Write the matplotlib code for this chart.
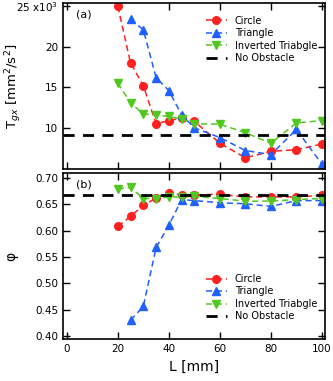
import numpy as np
import matplotlib
matplotlib.use("Agg")
import matplotlib.pyplot as plt
from matplotlib.ticker import FixedLocator, MultipleLocator

L = [20, 25, 30, 35, 40, 45, 50, 60, 70, 80, 90, 100]

# granular temperature (x1e3 mm^2/s^2)
tgx_circle = [25.0, 18.0, 15.2, 10.5, 10.9, 11.2, 10.8, 8.1, 6.3, 7.1, 7.3, 8.0]
tgx_triangle = [np.nan, 23.4, 22.1, 16.2, 14.6, 11.6, 10.0, 8.8, 7.2, 6.7, 9.8, 5.5]
tgx_inverted = [15.5, 13.1, 11.7, 11.6, 11.4, 11.1, 10.5, 10.45, 9.4, 8.1, 10.6, 10.9]
tgx_none = 9.13

# packing fraction
phi_circle = [0.608, 0.627, 0.648, 0.662, 0.671, 0.668, 0.668, 0.669, 0.664, 0.664, 0.664, 0.667]
phi_triangle = [np.nan, 0.430, 0.456, 0.568, 0.610, 0.659, 0.657, 0.653, 0.651, 0.646, 0.657, 0.657]
phi_inverted = [0.679, 0.682, 0.661, 0.661, 0.664, 0.664, 0.665, 0.661, 0.656, 0.656, 0.659, 0.661]
phi_none = 0.667

labels = ["Circle", "Triangle", "Inverted Triabgle", "No Obstacle"]

red = "#ff2020"
blue = "#2060ff"
green = "#50c820"

plt.rcParams['font.family'] = ['DejaVu Sans']
fig = plt.figure(figsize=(3.33, 3.81), dpi=100)
ax1 = fig.add_axes([0.189, 0.556, 0.787, 0.436])
ax2 = fig.add_axes([0.189, 0.110, 0.787, 0.436])

def style(ax):
    ax.tick_params(direction="in", top=True, right=True, labelsize=7.5, length=5, width=1)
    for s in ax.spines.values():
        s.set_linewidth(1.2)
    ax.set_xlim(-1.5, 101.2)
    ax.xaxis.set_major_locator(MultipleLocator(20))

x = np.array(L)
kw = dict(linestyle=(0, (4, 2.5)), linewidth=1.1, markersize=5.5)
ax1.plot(x, np.array(tgx_circle) * 1e3, color=red, marker="o", label=labels[0], **kw)
ax1.plot(x, np.array(tgx_triangle) * 1e3, color=blue, marker="^", label=labels[1], **kw)
ax1.plot(x, np.array(tgx_inverted) * 1e3, color=green, marker="v", label=labels[2], **kw)
ax1.axhline(tgx_none * 1e3, color="black", linestyle=(0, (4, 3)), linewidth=2, label=labels[3])
style(ax1)
ax1.set_ylim(4900, 25400)
ax1.yaxis.set_major_locator(FixedLocator([10000, 15000, 20000, 25000]))
ax1.set_yticklabels(["10", "15", "20", "25 x10$^3$"])
ax1.tick_params(labelbottom=False)
ax1.set_ylabel("T$_{gx}$ [mm$^2$/s$^2$]", fontsize=9.5)
ax1.yaxis.set_label_coords(-0.15, 0.5)
ax1.text(0.05, 0.96, "(a)", transform=ax1.transAxes, fontsize=8, va="top")
ax1.legend(loc="upper right", frameon=False, fontsize=7, handlelength=2.2,
           borderaxespad=0.4, labelspacing=0.25, bbox_to_anchor=(1.0, 0.97))

ax2.plot(x, phi_circle, color=red, marker="o", label=labels[0], **kw)
ax2.plot(x, phi_triangle, color=blue, marker="^", label=labels[1], **kw)
ax2.plot(x, phi_inverted, color=green, marker="v", label=labels[2], **kw)
ax2.axhline(phi_none, color="black", linestyle=(0, (4, 3)), linewidth=2, label=labels[3])
style(ax2)
ax2.set_ylim(0.394, 0.7095)
ax2.yaxis.set_major_locator(FixedLocator([0.40, 0.45, 0.50, 0.55, 0.60, 0.65, 0.70]))
ax2.yaxis.set_major_formatter(matplotlib.ticker.FormatStrFormatter("%.2f"))
ax2.set_ylabel("\u03c6", fontsize=10)
ax2.yaxis.set_label_coords(-0.17, 0.5)
ax2.set_xlabel("L [mm]", fontsize=10)
ax2.text(0.05, 0.96, "(b)", transform=ax2.transAxes, fontsize=8, va="top")
ax2.legend(loc="lower right", frameon=False, fontsize=7, handlelength=2.2,
           borderaxespad=0.4, labelspacing=0.25, bbox_to_anchor=(1.0, 0.06))

fig.savefig("out.png", dpi=100)
